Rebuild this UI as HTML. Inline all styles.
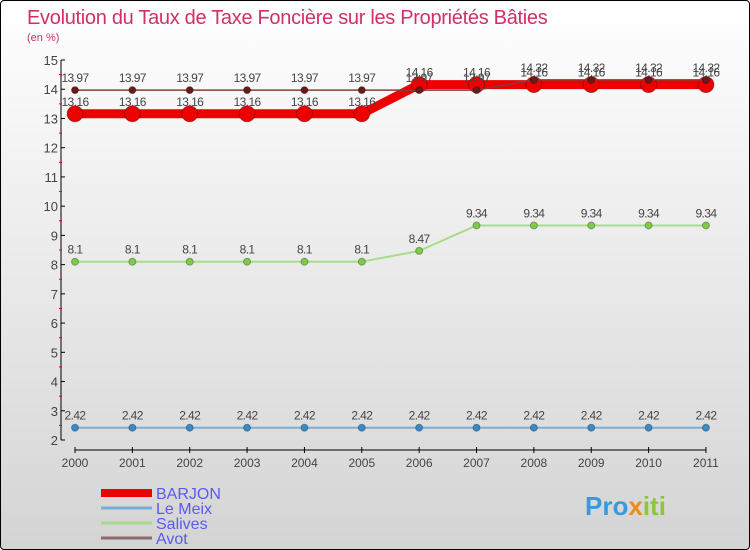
<!DOCTYPE html>
<html><head><meta charset="utf-8"><style>
body{margin:0}
#c{width:748px;height:548px;border:1px solid #000;border-radius:4px;background:linear-gradient(#fff,#d4d4d4);position:relative;overflow:hidden;font-family:"Liberation Sans","DejaVu Sans",sans-serif}
</style></head><body>
<div id="c">
<svg id="s" width="748" height="548">
<text x="26" y="23" font-size="20" fill="#d0306a" style="letter-spacing:-0.3px">Evolution du Taux de Taxe Foncière sur les Propriétés Bâties</text>
<text x="26" y="40" font-size="11" fill="#d0306a">(en %)</text>
<g id="ax"></g><g id="ser"></g>
<text x="584" y="514" font-size="26" font-weight="bold" fill="#3a9ad9">Pro<tspan fill="#f08a1a">x</tspan><tspan fill="#8cc63f">iti</tspan></text>
</svg></div>
<script>
const years=[2000,2001,2002,2003,2004,2005,2006,2007,2008,2009,2010,2011];
const yTicks=[2,3,4,5,6,7,8,9,10,11,12,13,14,15];
const barjon=[13.16,13.16,13.16,13.16,13.16,13.16,14.16,14.16,14.16,14.16,14.16,14.16];
const leMeix=[2.42,2.42,2.42,2.42,2.42,2.42,2.42,2.42,2.42,2.42,2.42,2.42];
const salives=[8.1,8.1,8.1,8.1,8.1,8.1,8.47,9.34,9.34,9.34,9.34,9.34];
const avot=[13.97,13.97,13.97,13.97,13.97,13.97,13.97,13.97,14.32,14.32,14.32,14.32];
const NS="http://www.w3.org/2000/svg";
const X=i=>74+i*57.36, Y=v=>439-(v-2)*29.23;
function mk(t,a,p){const e=document.createElementNS(NS,t);for(const k in a)e.setAttribute(k,a[k]);p.appendChild(e);return e;}
const ax=document.getElementById('ax');
let e=mk('line',{x1:60,y1:Y(15),x2:60,y2:Y(2),stroke:'#000'},ax);

e=mk('line',{x1:X(0),y1:449,x2:X(11),y2:449,stroke:'#000'},ax);

yTicks.forEach(v=>{mk('line',{x1:60,x2:64,y1:Y(v),y2:Y(v),stroke:'#000'},ax);
 if(v<15)mk('line',{x1:58,x2:61,y1:Y(v+0.5),y2:Y(v+0.5),stroke:'#e00'},ax);
 const t=mk('text',{x:57,y:Y(v)+5,'font-size':13,'text-anchor':'end',fill:'#444'},ax);t.textContent=v;
 });
years.forEach((y,i)=>{mk('line',{x1:X(i),x2:X(i),y1:446,y2:452,stroke:'#000'},ax);
 const t=mk('text',{x:X(i),y:466,'font-size':12,'text-anchor':'middle',fill:'#444'},ax);t.textContent=y;
 });
const ser=document.getElementById('ser');
function series(d,name,col,w,r,dot){
 const g=mk('g',{},ser);
 mk('polyline',{points:d.map((v,i)=>X(i)+','+Y(v)).join(' '),fill:'none',stroke:col,'stroke-width':w,'stroke-linejoin':'round'},g);
 d.forEach((v,i)=>{const c=mk('circle',{cx:X(i),cy:Y(v),r:r,fill:dot,stroke:'rgba(0,0,0,0.3)'},g);
 
 const t=mk('text',{x:X(i),y:Y(v)-8,'font-size':12,'text-anchor':'middle',fill:'#444','letter-spacing':'-0.6'},g);t.textContent=v;
 });
}
series(leMeix,'le-meix','#7aaed6',2,3.5,'#3a8ac8');
series(salives,'salives','#a8dc8a',2,3.5,'#7ccc44');
series(barjon,'barjon','#ee0000',9,8,'#ee0000');
series(avot,'avot','#8a3a3a',1.5,3.5,'#6a1a1a');
const leg=[['BARJON','#ee0000',8],['Le Meix','#7aaed6',3],['Salives','#a8dc8a',3],['Avot','#8a6a6a',3]];
leg.forEach((l,i)=>{const y=492+i*15;
 const g=mk('g',{},document.getElementById('s'));
 mk('line',{x1:100,x2:151,y1:y,y2:y,stroke:l[1],'stroke-width':l[2]},g);
 const t=mk('text',{x:155,y:y+6,'font-size':16,fill:'#5a5aee'},g);t.textContent=l[0];});
</script></body></html>
